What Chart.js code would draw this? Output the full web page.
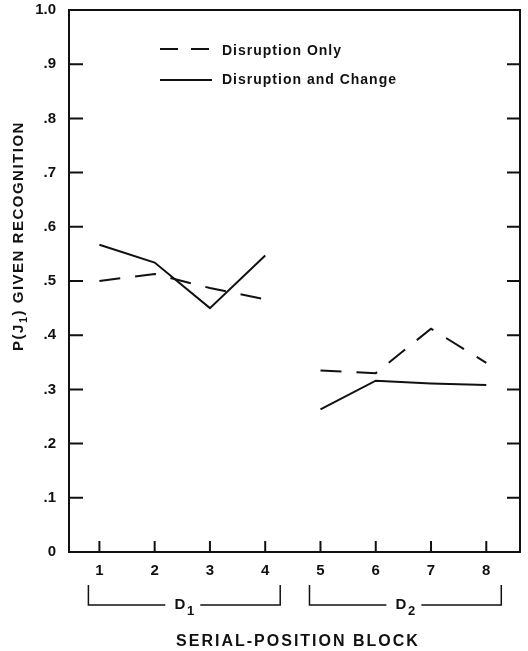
<!DOCTYPE html>
<html>
<head>
<meta charset="utf-8">
<script src="https://cdn.jsdelivr.net/npm/chart.js@4.4.0/dist/chart.umd.min.js"></script>
<style>
  html, body { margin: 0; padding: 0; background: #fff; }
  canvas { display: block; }
</style>
</head>
<body>
<canvas id="myChart" width="528" height="651"></canvas>
<script>
const ctx = document.getElementById('myChart').getContext('2d');

// serial-position blocks 1..8
const positions = [1, 2, 3, 4, 5, 6, 7, 8];
const disruptionOnly = [0.500, 0.513, 0.487, 0.466, 0.335, 0.330, 0.412, 0.349];
const disruptionAndChange = [0.567, 0.534, 0.450, 0.547, 0.263, 0.316, 0.311, 0.308];

const yTicks = [0, 0.1, 0.2, 0.3, 0.4, 0.5, 0.6, 0.7, 0.8, 0.9, 1.0];
const yTickLabels = ['0', '.1', '.2', '.3', '.4', '.5', '.6', '.7', '.8', '.9', '1.0'];

const blockNames = ['D', 'D'];
const blockSubs = ['1', '2'];
const blockFirst = [1, 5];
const blockLast = [4, 8];

const seriesNames = ['Disruption Only', 'Disruption and Change'];

const FONT = '"Liberation Sans", Arial, sans-serif';
const INK = '#111';

// break the line between the two blocks
function toPoints(values) {
	const pts = [];
	positions.forEach((p, i) => {
		pts.push({x: p, y: values[i]});
		if (p === blockLast[0]) pts.push({x: p + 0.5, y: null});
	});
	return pts;
}

function drawSpaced(c, parts, x, y, spacing) {
	c.save();
	c.letterSpacing = spacing + 'px';
	let total = 0;
	parts.forEach(pt => { c.font = pt.font; total += c.measureText(pt.text).width; });
	let cx = x - total / 2;
	c.textAlign = 'left';
	c.textBaseline = 'middle';
	parts.forEach(pt => {
		c.font = pt.font;
		c.fillText(pt.text, cx, y + (pt.dy || 0));
		cx += c.measureText(pt.text).width;
	});
	c.restore();
}

const decorations = {
	id: 'decorations',
	afterDraw(chart) {
		const c = chart.ctx;
		const a = chart.chartArea;
		const xs = chart.scales.x;
		const ys = chart.scales.y;
		c.save();
		c.strokeStyle = INK;
		c.fillStyle = INK;

		// frame
		c.lineWidth = 2;
		c.strokeRect(a.left, a.top, a.right - a.left, a.bottom - a.top);

		// inward ticks
		c.beginPath();
		yTicks.forEach(v => {
			if (v === 0 || v === 1) return;
			const py = ys.getPixelForValue(v);
			c.moveTo(a.left, py); c.lineTo(a.left + 14, py);
			c.moveTo(a.right, py); c.lineTo(a.right - 13, py);
		});
		positions.forEach(p => {
			const px = xs.getPixelForValue(p);
			c.moveTo(px, a.bottom); c.lineTo(px, a.bottom - 11);
		});
		c.stroke();

		// legend
		c.lineWidth = 2;
		c.setLineDash([18, 13]);
		c.beginPath(); c.moveTo(160, 49); c.lineTo(212, 49); c.stroke();
		c.setLineDash([]);
		c.beginPath(); c.moveTo(160, 80); c.lineTo(212, 80); c.stroke();
		c.font = 'bold 14px ' + FONT;
		c.letterSpacing = '1px';
		c.textAlign = 'left';
		c.textBaseline = 'middle';
		c.fillText(seriesNames[0], 222, 51);
		c.fillText(seriesNames[1], 222, 80);
		c.letterSpacing = '0px';

		// block brackets
		c.lineWidth = 1.5;
		blockFirst.forEach((first, i) => {
			const x0 = xs.getPixelForValue(first) - 11;
			const x1 = xs.getPixelForValue(blockLast[i]) + 15;
			const mid = (x0 + x1) / 2;
			const yTop = 585, yLine = 605;
			c.beginPath();
			c.moveTo(x0, yTop); c.lineTo(x0, yLine); c.lineTo(mid - 19, yLine);
			c.moveTo(mid + 16, yLine); c.lineTo(x1, yLine); c.lineTo(x1, yTop);
			c.stroke();
			drawSpaced(c, [
				{text: blockNames[i], font: 'bold 15px ' + FONT},
				{text: ' ', font: 'bold 6px ' + FONT},
				{text: blockSubs[i], font: 'bold 13px ' + FONT, dy: 6}
			], mid, 605, 0);
		});

		// x title
		drawSpaced(c, [{text: 'SERIAL-POSITION BLOCK', font: 'bold 16px ' + FONT}], 298, 642, 2);

		// y title
		c.translate(19, 236);
		c.rotate(-Math.PI / 2);
		drawSpaced(c, [
			{text: 'P(J', font: 'bold 15px ' + FONT},
			{text: '1', font: 'bold 11px ' + FONT, dy: 5},
			{text: ') GIVEN RECOGNITION', font: 'bold 15px ' + FONT}
		], 0, 0, 1.5);

		c.restore();
	}
};

new Chart(ctx, {
	type: 'line',
	data: {
		datasets: [{
			label: seriesNames[0],
			data: toPoints(disruptionOnly),
			borderColor: INK,
			borderWidth: 2,
			borderDash: [21, 15],
			pointRadius: 0,
			spanGaps: false,
			tension: 0
		},
		{
			label: seriesNames[1],
			data: toPoints(disruptionAndChange),
			borderColor: INK,
			borderWidth: 2,
			pointRadius: 0,
			spanGaps: false,
			tension: 0
		}]
	},
	options: {
		responsive: false,
		animation: false,
		devicePixelRatio: 1,
		layout: {padding: {top: 10, right: 8, left: 0, bottom: 0}},
		plugins: {legend: {display: false}, tooltip: {enabled: false}},
		scales: {
			x: {
				type: 'linear',
				min: 0.45,
				max: 8.61,
				afterBuildTicks: (s) => { s.ticks = positions.map(v => ({value: v})); },
				afterFit: (s) => { s.height = 99; s.paddingLeft = 0; s.paddingRight = 0; },
				grid: {display: false, drawTicks: false},
				border: {display: false},
				ticks: {
					color: INK,
					padding: 10,
					maxRotation: 0,
					font: {family: FONT, size: 15, weight: 'bold'},
					callback: (v) => String(v)
				}
			},
			y: {
				min: 0,
				max: 1,
				afterBuildTicks: (s) => { s.ticks = yTicks.map(v => ({value: v})); },
				afterFit: (s) => { s.width = 69; s.paddingTop = 0; s.paddingBottom = 0; },
				grid: {display: false, drawTicks: false},
				border: {display: false},
				ticks: {
					color: INK,
					padding: 13,
					font: {family: FONT, size: 15, weight: 'bold'},
					callback: (v, i) => yTickLabels[i]
				}
			}
		}
	},
	plugins: [decorations]
});
</script>
</body>
</html>
